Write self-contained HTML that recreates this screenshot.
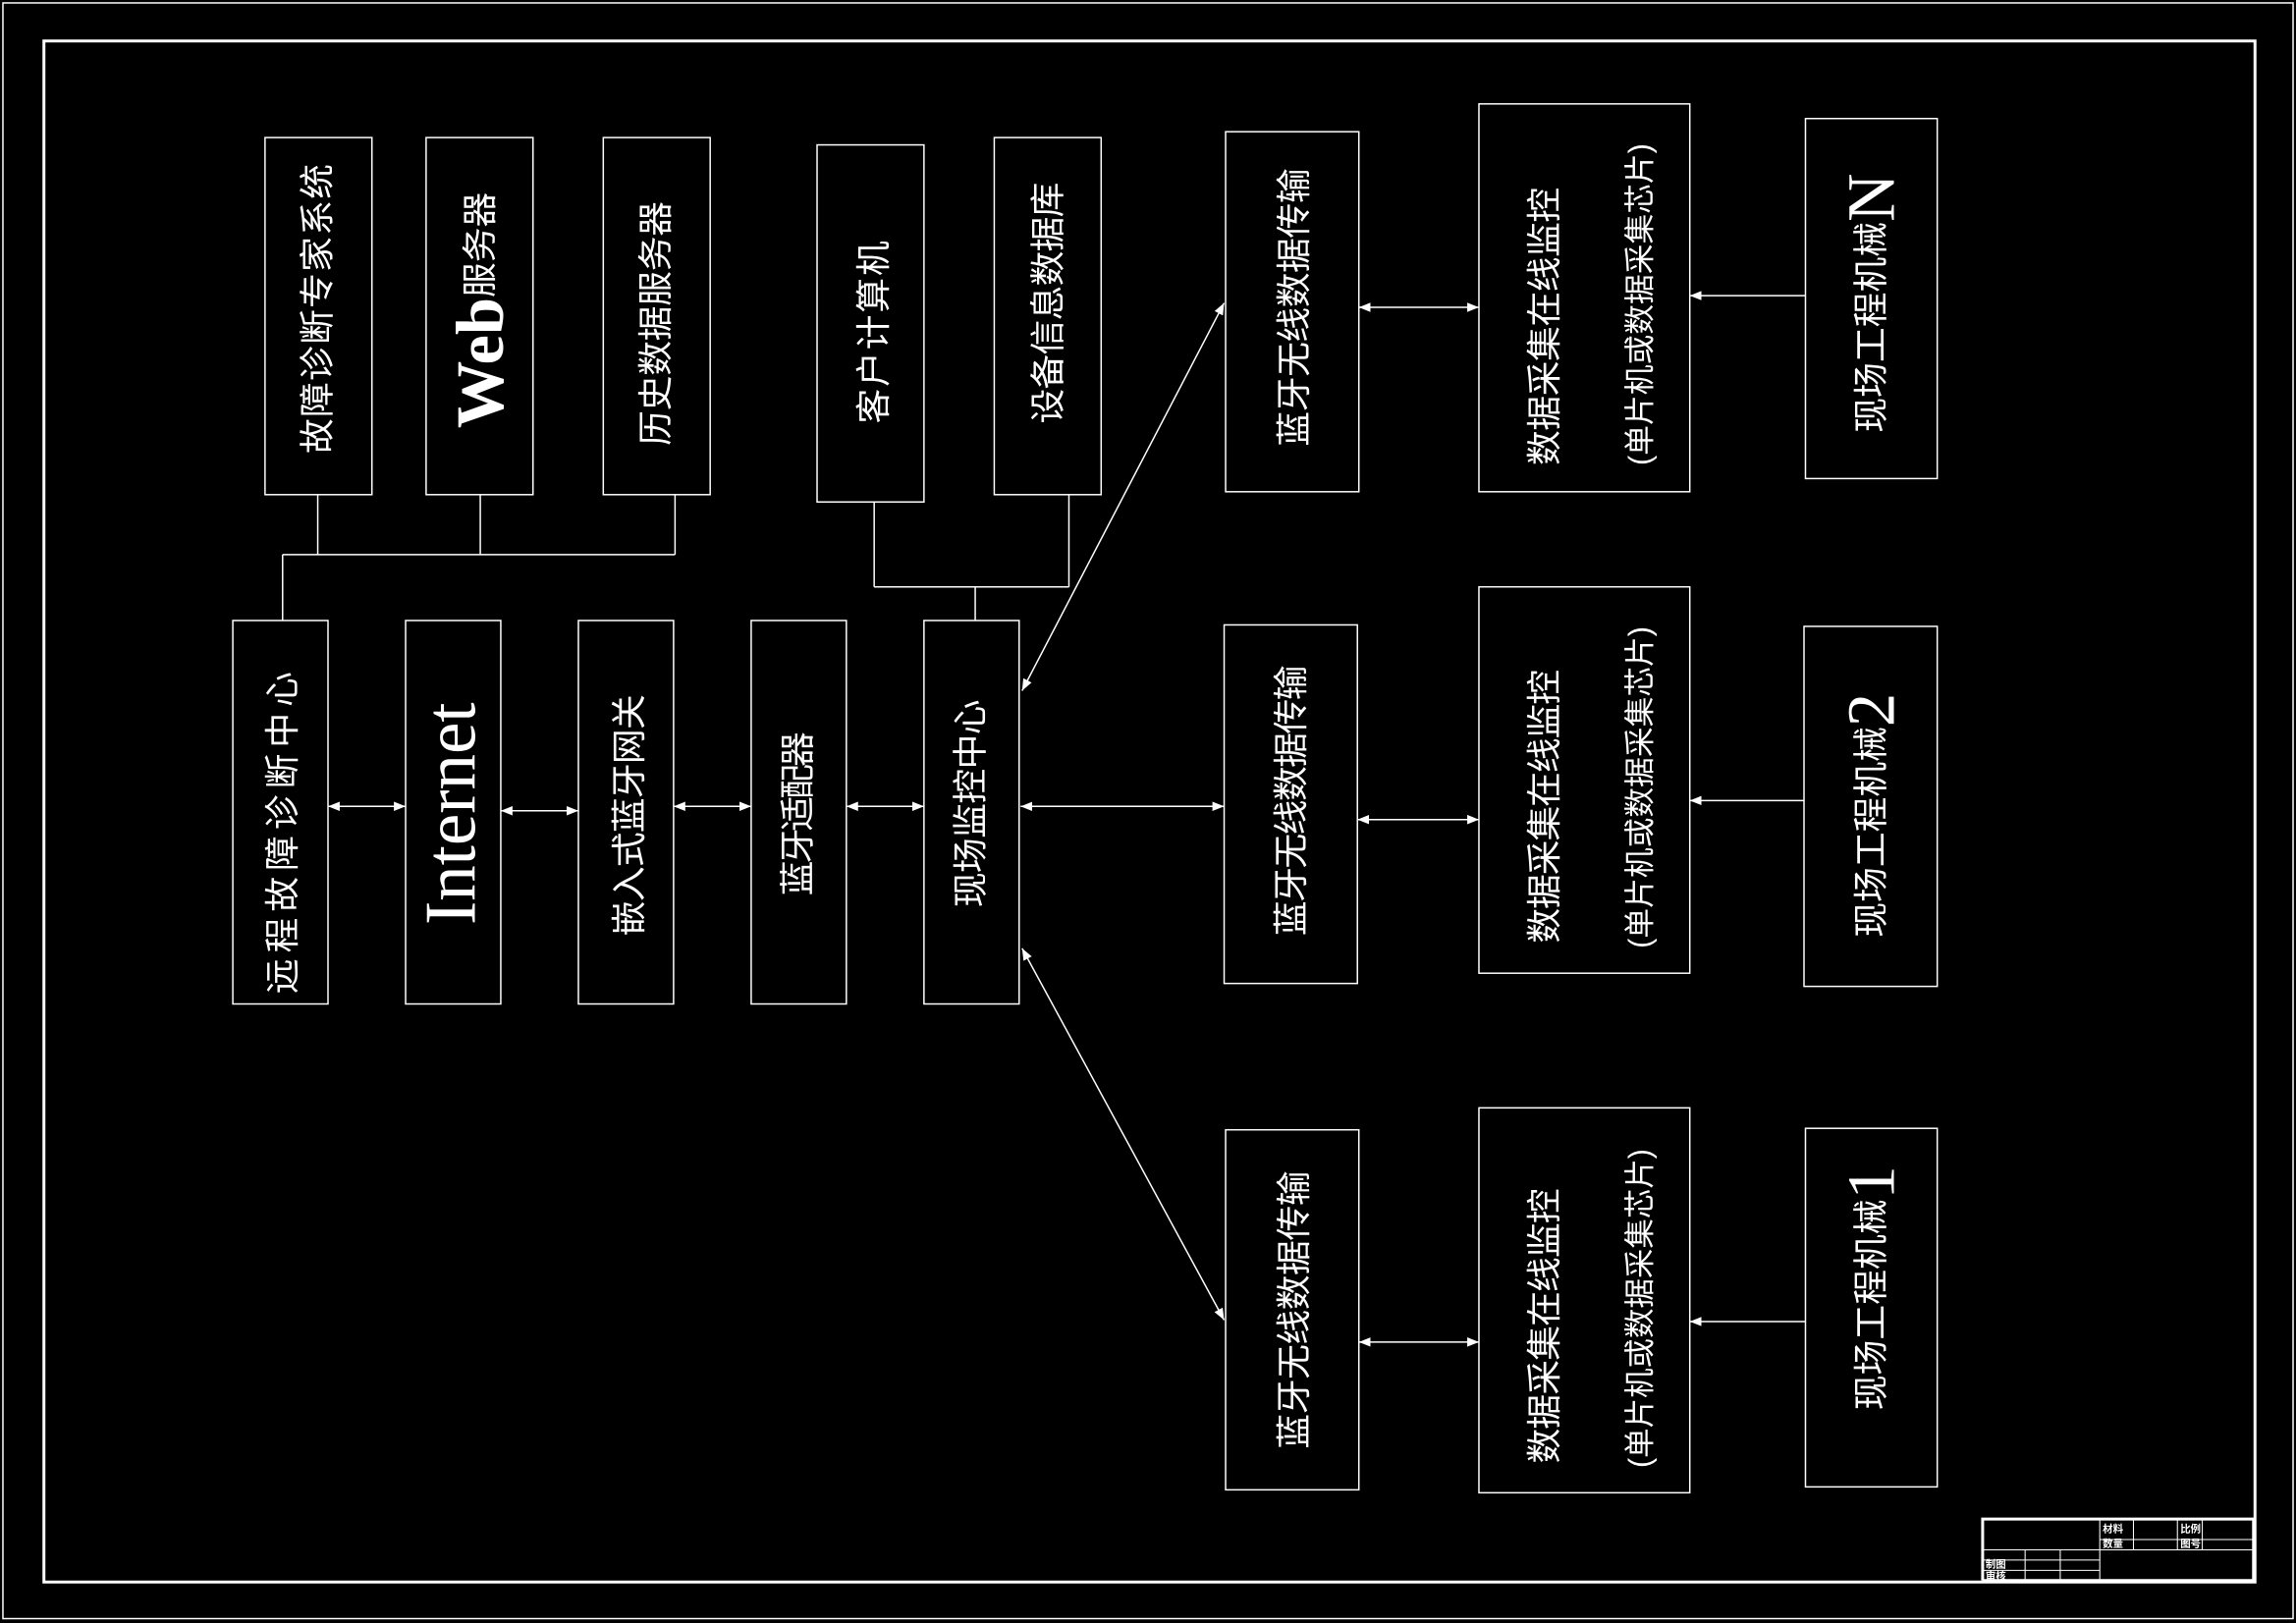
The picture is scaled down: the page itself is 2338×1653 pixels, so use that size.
<!DOCTYPE html>
<html><head><meta charset="utf-8"><style>
html,body{margin:0;padding:0;background:#000;}
svg{display:block;}
text{fill:#fff;font-family:"Liberation Sans","Noto Sans CJK SC",sans-serif;font-size:24px;}
.big{font-family:"Liberation Serif",serif;font-weight:bold;font-size:46px;}
.nb{font-family:"Liberation Serif",serif;font-size:50px;}
.sm{font-size:21px;}
.ti{font-size:7px;font-family:"Noto Sans CJK SC",sans-serif;font-weight:bold;}
</style></head><body>
<svg width="2338" height="1653" viewBox="0 0 1568 1109" preserveAspectRatio="none" xmlns="http://www.w3.org/2000/svg">
<defs>
<marker id="a" viewBox="0 0 10 10" refX="10" refY="5" markerWidth="8" markerHeight="8" markerUnits="userSpaceOnUse" orient="auto-start-reverse"><path d="M0,1 L10,5 L0,9 z" fill="#fff"/></marker>
</defs>
<rect x="0" y="0" width="1568" height="1109" fill="#000"/>
<rect x="2" y="2" width="1564" height="1104" fill="none" stroke="#fff" stroke-width="1"/>
<rect x="30" y="28" width="1510" height="1053" fill="none" stroke="#fff" stroke-width="2"/>
<g fill="none" stroke="#fff" stroke-width="1">
<rect x="181" y="94" width="73" height="244"/>
<rect x="291" y="94" width="73" height="244"/>
<rect x="412" y="94" width="73" height="244"/>
<rect x="558" y="99" width="73" height="244"/>
<rect x="679" y="94" width="73" height="244"/>
<rect x="159" y="424" width="65" height="262"/>
<rect x="277" y="424" width="65" height="262"/>
<rect x="395" y="424" width="65" height="262"/>
<rect x="513" y="424" width="65" height="262"/>
<rect x="631" y="424" width="65" height="262"/>
<rect x="837" y="90" width="91" height="246"/>
<rect x="836" y="427" width="91" height="245"/>
<rect x="837" y="772" width="91" height="246"/>
<rect x="1010" y="71" width="144" height="265"/>
<rect x="1010" y="401" width="144" height="264"/>
<rect x="1010" y="757" width="144" height="263"/>
<rect x="1233" y="81" width="90" height="246"/>
<rect x="1232" y="428" width="91" height="246"/>
<rect x="1233" y="771" width="90" height="245"/>
<path d="M217,338V379M328,338V379M461,338V379M193,379H461M193,379V424"/>
<path d="M597,343V401M730,338V401M597,401H730M666,401V424"/>
<g marker-start="url(#a)" marker-end="url(#a)">
<line x1="224" y1="551" x2="277" y2="551"/>
<line x1="342" y1="554" x2="395" y2="554"/>
<line x1="460" y1="551" x2="513" y2="551"/>
<line x1="578" y1="551" x2="631" y2="551"/>
<line x1="697" y1="551" x2="836" y2="551"/>
<line x1="928" y1="210" x2="1010" y2="210"/>
<line x1="927" y1="560" x2="1010" y2="560"/>
<line x1="928" y1="917" x2="1010" y2="917"/>
<line x1="698" y1="472" x2="836" y2="207"/>
<line x1="698" y1="648" x2="836" y2="902"/>
</g>
<g marker-end="url(#a)">
<line x1="1233" y1="202" x2="1154" y2="202"/>
<line x1="1232" y1="547" x2="1154" y2="547"/>
<line x1="1233" y1="903" x2="1154" y2="903"/>
</g>
</g>
<g text-anchor="middle" dominant-baseline="central">
<text transform="translate(217,211) rotate(-90)" textLength="198" lengthAdjust="spacing">故障诊断专家系统</text>
<text transform="translate(328,212) rotate(-90)"><tspan class="big">Web</tspan><tspan>服务器</tspan></text>
<text transform="translate(448,221) rotate(-90)" textLength="167" lengthAdjust="spacing">历史数据服务器</text>
<text transform="translate(597,227) rotate(-90)" textLength="125" lengthAdjust="spacing">客户计算机</text>
<text transform="translate(716,207) rotate(-90)" textLength="165" lengthAdjust="spacing">设备信息数据库</text>
<text transform="translate(193,569) rotate(-90)" textLength="220" lengthAdjust="spacing">远程故障诊断中心</text>
<text class="nb" transform="translate(308,556) rotate(-90)" textLength="152" lengthAdjust="spacingAndGlyphs">Internet</text>
<text transform="translate(430,557) rotate(-90)" textLength="165" lengthAdjust="spacing">嵌入式蓝牙网关</text>
<text transform="translate(545,556) rotate(-90)" textLength="112" lengthAdjust="spacing">蓝牙适配器</text>
<text transform="translate(663,549) rotate(-90)" textLength="142" lengthAdjust="spacing">现场监控中心</text>
<text transform="translate(884,210) rotate(-90)" textLength="190" lengthAdjust="spacing">蓝牙无线数据传输</text>
<text transform="translate(882,547) rotate(-90)" textLength="185" lengthAdjust="spacing">蓝牙无线数据传输</text>
<text transform="translate(884,895) rotate(-90)" textLength="190" lengthAdjust="spacing">蓝牙无线数据传输</text>
<text transform="translate(1055,223) rotate(-90)" textLength="190" lengthAdjust="spacing">数据采集在线监控</text>
<text class="sm" transform="translate(1120,208) rotate(-90)" textLength="220" lengthAdjust="spacingAndGlyphs">(单片机或数据采集芯片)</text>
<text transform="translate(1055,551) rotate(-90)" textLength="187" lengthAdjust="spacing">数据采集在线监控</text>
<text class="sm" transform="translate(1120,538) rotate(-90)" textLength="220" lengthAdjust="spacingAndGlyphs">(单片机或数据采集芯片)</text>
<text transform="translate(1055,906) rotate(-90)" textLength="188" lengthAdjust="spacing">数据采集在线监控</text>
<text class="sm" transform="translate(1120,894) rotate(-90)" textLength="218" lengthAdjust="spacingAndGlyphs">(单片机或数据采集芯片)</text>
<text transform="translate(1278,207) rotate(-90)">现场工程机械<tspan class="big" style="font-weight:normal">N</tspan></text>
<text transform="translate(1278,557) rotate(-90)">现场工程机械<tspan class="big" style="font-weight:normal">2</tspan></text>
<text transform="translate(1278,880) rotate(-90)">现场工程机械<tspan class="big" style="font-weight:normal">1</tspan></text>
</g>
<g fill="none" stroke="#fff">
<path d="M1354,1080V1038H1539V1080H1354" stroke-width="2"/>
<path d="M1434,1038V1080M1434,1052H1539M1434,1059H1539M1354,1066H1434M1354,1073H1434M1383,1059V1080M1407,1059V1080M1354,1059H1434M1457,1038V1059M1487,1038V1059M1504,1038V1059" stroke-width="0.7"/>
</g>
<g>
<text class="ti" x="1436" y="1047">材料</text>
<text class="ti" x="1436" y="1057">数量</text>
<text class="ti" x="1489" y="1047">比例</text>
<text class="ti" x="1489" y="1057">图号</text>
<text class="ti" x="1356" y="1071">制图</text>
<text class="ti" x="1356" y="1079">审核</text>
</g>
</svg>
</body></html>
